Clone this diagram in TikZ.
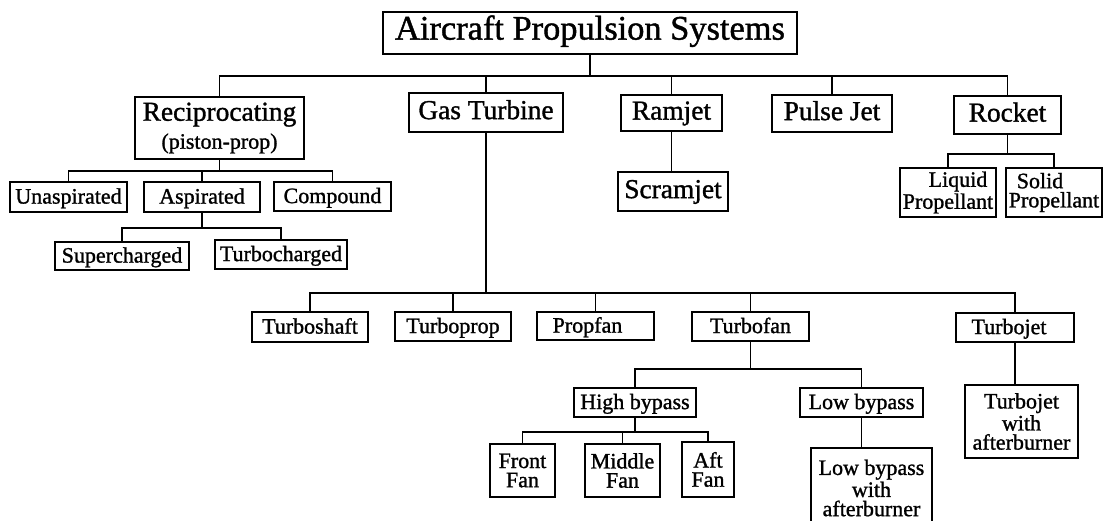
\documentclass[tikz,border=0pt]{standalone}
\usepackage{fontspec}
\setmainfont{Liberation Serif}[FakeBold=1.2]
\begin{document}
\begin{tikzpicture}[x=0.5pt,y=-0.5pt,
  bx/.style 2 args={draw, line width=0.95pt, inner sep=0pt, align=center,
    minimum width=#1*0.5pt, minimum height=#2*0.5pt},
  one/.style={text height=0.66em, text depth=0pt},
  ttl/.style={font=\fontsize{17.2}{20}\selectfont},
  big/.style={font=\fontsize{13.7}{12}\selectfont},
  sm/.style={font=\fontsize{11}{9.6}\selectfont},
  ln/.style={line width=0.85pt}]
\useasboundingbox (0,0) rectangle (1104,520);
% buses
\coordinate (b0) at (0,76);
\coordinate (brec) at (0,171);
\coordinate (basp) at (0,228);
\coordinate (broc) at (0,154);
\coordinate (bgt) at (0,293);
\coordinate (btf) at (0,369);
\coordinate (bhb) at (0,432);
% nodes
\node[bx={414}{42}, ttl, one] (title) at (590,33) {Aircraft Propulsion Systems};
\node[bx={169}{62}, big] (rec) at (219.5,128) {Reciprocating\\[2pt]{\fontsize{11}{12}\selectfont(piston-prop)}};
\node[bx={154}{39}, big, one] (gt) at (486,112.5) {Gas Turbine};
\node[bx={101}{36}, big, one] (ram) at (671.5,113) {Ramjet};
\node[bx={120}{37}, big, one] (pulse) at (832,113.5) {Pulse Jet};
\node[bx={107}{38}, big, one] (rocket) at (1007.5,115) {Rocket};
\node[bx={110}{39}, big, one] (scram) at (673,191.5) {Scramjet};
\node[bx={117}{30}, sm, one] (unasp) at (68.5,197) {Unaspirated};
\node[bx={116}{30}, sm, one] (asp) at (202,197) {Aspirated};
\node[bx={117}{29}, sm, one] (comp) at (332.5,196.5) {Compound};
\node[bx={134}{28}, sm, one] (super) at (122,256) {Supercharged};
\node[bx={132}{29}, sm, one] (turboch) at (281,254.5) {Turbocharged};
\node[bx={96}{49}, sm] (liq) at (948,192.5) {\hspace*{10pt}Liquid\\Propellant};
\node[bx={96}{49}, sm] (sol) at (1054,192.5) {Solid\hspace*{14pt}\\Propellant};
\node[bx={116}{30}, sm, one] (tshaft) at (310,327) {Turboshaft};
\node[bx={116}{29}, sm, one] (tprop) at (453,326.5) {Turboprop};
\node[bx={117}{28}, sm, one] (pfan) at (595.5,326) {Propfan\hspace*{8pt}};
\node[bx={117}{29}, sm, one] (tfan) at (750.5,326.5) {Turbofan};
\node[bx={118}{29}, sm, one] (tjet) at (1015,327.5) {Turbojet\hspace*{6pt}};
\node[bx={122}{29}, sm, one] (hb) at (635,402.5) {High bypass};
\node[bx={123}{29}, sm, one] (lb) at (861.5,402.5) {Low bypass};
\node[bx={65}{53}, sm] (ff) at (522.5,470.5) {Front\\Fan};
\node[bx={75}{53}, sm] (mf) at (622.5,470.5) {Middle\\Fan};
\node[bx={52}{55}, sm] (af) at (708,469.5) {Aft\\Fan};
\node[bx={121}{80}, sm] (lbab) at (871.5,488) {Low bypass\\with\\afterburner};
\node[bx={113}{73}, sm] (tjab) at (1021.5,421.5) {Turbojet\\with\\afterburner};
% connectors
\foreach \c in {rec,gt,ram,pulse,rocket}
  \draw[ln] (title.south) |- (b0 -| \c.north) -- (\c.north);
\foreach \c in {unasp,asp,comp}
  \draw[ln] (rec.south) |- (brec -| \c.north) -- (\c.north);
\foreach \c in {super,turboch}
  \draw[ln] (asp.south) |- (basp -| \c.north) -- (\c.north);
\foreach \c in {liq,sol}
  \draw[ln] (rocket.south) |- (broc -| \c.north) -- (\c.north);
\draw[ln] (ram.south) -- (ram.south |- scram.north);
\foreach \c in {tshaft,tprop,pfan,tfan,tjet}
  \draw[ln] (gt.south) |- (bgt -| \c.north) -- (\c.north);
\foreach \c in {hb,lb}
  \draw[ln] (tfan.south) |- (btf -| \c.north) -- (\c.north);
\foreach \c in {ff,mf,af}
  \draw[ln] (hb.south) |- (bhb -| \c.north) -- (\c.north);
\draw[ln] (lb.south) -- (lb.south |- lbab.north);
\draw[ln] (tjet.south) -- (tjet.south |- tjab.north);
\end{tikzpicture}
\end{document}
